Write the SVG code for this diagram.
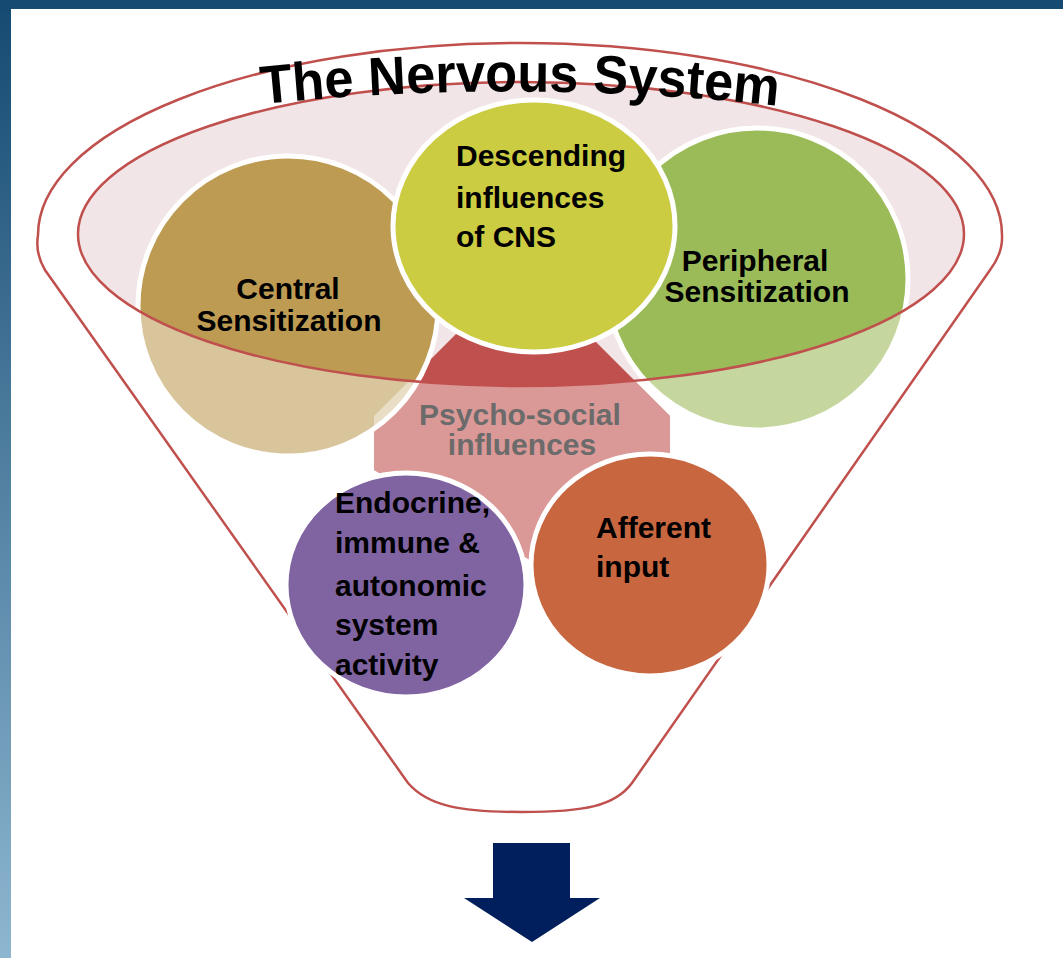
<svg xmlns="http://www.w3.org/2000/svg" width="1063" height="958" viewBox="0 0 1063 958">
  <style>
    .line { fill: none; stroke: #C0504D; stroke-width: 2.5; }
    .node { stroke: #FFFFFF; stroke-width: 5; }
    .label { font-family: "Liberation Sans", Arial, sans-serif; font-weight: bold; font-size: 30px; fill: #000000; }
    .mid { text-anchor: middle; }
  </style>
  <defs>
    <linearGradient id="edge" x1="0" y1="0" x2="0" y2="1">
      <stop offset="0" stop-color="#154A72"/>
      <stop offset="1" stop-color="#8DB6D0"/>
    </linearGradient>
    <!-- area below the nervous-system ring, where shapes are paler -->
    <mask id="outsideRing" maskUnits="userSpaceOnUse" x="0" y="0" width="1063" height="958">
      <rect x="0" y="0" width="1063" height="958" fill="#FFFFFF"/>
      <ellipse cx="521" cy="234" rx="443" ry="152" fill="#000000"/>
    </mask>
    <path id="titleArc" d="M 262 104 Q 520 78 780 106"/>
  </defs>

  <!-- frame -->
  <rect x="0" y="0" width="1063" height="958" fill="#FFFFFF"/>
  <rect x="0" y="0" width="11" height="958" fill="url(#edge)"/>
  <rect x="0" y="0" width="1063" height="9" fill="#154A72"/>

  <!-- funnel outline -->
  <g id="funnel">
    <path class="line" d="M 45 270 Q 35 253 38 235 A 482 192 0 0 1 1002 235 Q 1003 253 990 270 L 632 783 C 615 806 585 812 522 812 C 460 812 428 806 408 783 Z"/>
  </g>

  <!-- nervous-system ring fill -->
  <ellipse id="ring-fill" cx="521" cy="234" rx="443" ry="152" fill="#F2E5E7"/>

  <g id="psychosocial">
    <polygon points="470,320 574,320 670,416 670,470 530,560 374,470 374,416" fill="#C0504D"/>
  </g>

  <g id="central">
    <ellipse class="node" cx="288" cy="306" rx="150" ry="150" fill="#BD9B53"/>
  </g>

  <g id="peripheral">
    <ellipse class="node" cx="757" cy="279" rx="151" ry="151" fill="#9BBB59"/>
  </g>

  <g id="descending">
    <ellipse class="node" cx="534" cy="226" rx="141" ry="126" fill="#CCCC42"/>
  </g>

  <!-- paler lower halves, outside the ring -->
  <g id="pale" mask="url(#outsideRing)" fill="#FFFFFF" fill-opacity="0.42">
    <polygon points="470,320 574,320 670,416 670,470 530,560 374,470 374,416"/>
    <ellipse cx="288" cy="306" rx="148" ry="148"/>
    <ellipse cx="757" cy="279" rx="149" ry="149"/>
  </g>

  <g id="endocrine">
    <ellipse class="node" cx="406" cy="585" rx="120" ry="112" fill="#8064A2"/>
  </g>

  <g id="afferent">
    <ellipse class="node" cx="650" cy="565" rx="119" ry="111" fill="#C86640"/>
  </g>

  <!-- ring outline drawn over the circles -->
  <g id="connectors">
    <ellipse class="line" cx="521" cy="234" rx="443" ry="152"/>
  </g>

  <!-- labels -->
  <text class="label" font-size="54" textLength="517" lengthAdjust="spacingAndGlyphs" style="font-size:54px"><textPath href="#titleArc">The Nervous System</textPath></text>

  <text class="label mid" x="288" y="299">Central</text>
  <text class="label mid" x="289" y="331">Sensitization</text>

  <text class="label" x="456" y="166">Descending</text>
  <text class="label" x="456" y="208">influences</text>
  <text class="label" x="456" y="247">of CNS</text>

  <text class="label mid" x="755" y="271">Peripheral</text>
  <text class="label mid" x="757" y="302">Sensitization</text>

  <text class="label mid" x="520" y="425" style="fill:#6B6B6B">Psycho-social</text>
  <text class="label mid" x="522" y="455" style="fill:#6B6B6B">influences</text>

  <text class="label" x="335" y="513">Endocrine,</text>
  <text class="label" x="335" y="553">immune &amp;</text>
  <text class="label" x="335" y="596">autonomic</text>
  <text class="label" x="335" y="635">system</text>
  <text class="label" x="335" y="675">activity</text>

  <text class="label" x="596" y="538">Afferent</text>
  <text class="label" x="596" y="577">input</text>

  <!-- outcome arrow -->
  <g id="arrow">
    <polygon points="493,843 570,843 570,898 600,898 532,942 464,898 493,898" fill="#001F5C"/>
  </g>
</svg>
